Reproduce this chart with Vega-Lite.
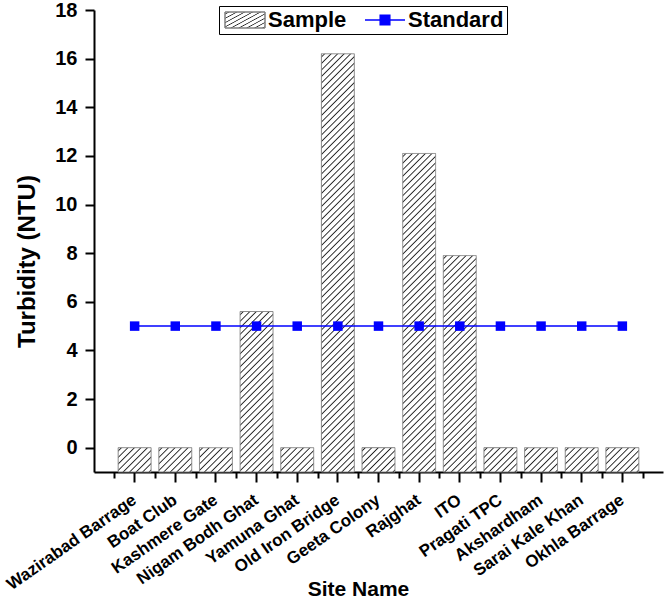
{
"$schema":"https://vega.github.io/schema/vega-lite/v6.json",
"width":569,"height":462,
"autosize":"none",
"padding":{"left":94,"top":10,"right":3,"bottom":126},
"background":"white",
"config":{"view":{"stroke":null},"font":"Liberation Sans"},
"data":{"values":[
{"Site":"Wazirabad Barrage","Sample":0,"Standard":5},
{"Site":"Boat Club","Sample":0,"Standard":5},
{"Site":"Kashmere Gate","Sample":0,"Standard":5},
{"Site":"Nigam Bodh Ghat","Sample":5.6,"Standard":5},
{"Site":"Yamuna Ghat","Sample":0,"Standard":5},
{"Site":"Old Iron Bridge","Sample":16.2,"Standard":5},
{"Site":"Geeta Colony","Sample":0,"Standard":5},
{"Site":"Rajghat","Sample":12.1,"Standard":5},
{"Site":"ITO","Sample":7.9,"Standard":5},
{"Site":"Pragati TPC","Sample":0,"Standard":5},
{"Site":"Akshardham","Sample":0,"Standard":5},
{"Site":"Sarai Kale Khan","Sample":0,"Standard":5},
{"Site":"Okhla Barrage","Sample":0,"Standard":5}
]},
"resolve":{"axis":{"x":"independent"}},
"layer":[
{"transform":[{"filter":"datum.Sample == 0"}],
"mark":{"type":"bar","width":{"band":0.81},"stroke":"#808080","strokeWidth":1,
"fill":{"gradient":"linear","x1":0,"y1":0,"x2":12.78,"y2":9.44,"stops":[
{"offset":0.003,"color":"#fff"},{"offset":0.005,"color":"#222"},{"offset":0.007,"color":"#fff"},
{"offset":0.013,"color":"#fff"},{"offset":0.015,"color":"#222"},{"offset":0.017,"color":"#fff"},
{"offset":0.023,"color":"#fff"},{"offset":0.025,"color":"#222"},{"offset":0.027,"color":"#fff"},
{"offset":0.033,"color":"#fff"},{"offset":0.035,"color":"#222"},{"offset":0.037,"color":"#fff"},
{"offset":0.043,"color":"#fff"},{"offset":0.045,"color":"#222"},{"offset":0.047,"color":"#fff"},
{"offset":0.053,"color":"#fff"},{"offset":0.055,"color":"#222"},{"offset":0.057,"color":"#fff"},
{"offset":0.063,"color":"#fff"},{"offset":0.065,"color":"#222"},{"offset":0.067,"color":"#fff"},
{"offset":0.073,"color":"#fff"},{"offset":0.075,"color":"#222"},{"offset":0.077,"color":"#fff"},
{"offset":0.083,"color":"#fff"},{"offset":0.085,"color":"#222"},{"offset":0.087,"color":"#fff"}
]}},
"encoding":{
"x":{"field":"Site","type":"nominal","sort":null,
"scale":{"domain":["Wazirabad Barrage","Boat Club","Kashmere Gate","Nigam Bodh Ghat","Yamuna Ghat","Old Iron Bridge","Geeta Colony","Rajghat","ITO","Pragati TPC","Akshardham","Sarai Kale Khan","Okhla Barrage"],"paddingInner":0,"paddingOuter":0.5},
"axis":{"orient":"bottom","title":"Site Name","labelAngle":-35,"labelAlign":"right","labelBaseline":"middle","labelFont":"Liberation Sans","labelFontSize":17,"labelFontWeight":"bold","labelColor":"black","labelPadding":16,"tickSize":10,"tickWidth":2,"tickColor":"black","domainColor":"black","domainWidth":2,"grid":false,"titleFont":"Liberation Sans","titleFontSize":21,"titleFontWeight":"bold","titleColor":"black","titleX":264,"titleY":123,"titleBaseline":"alphabetic","titleAlign":"center"}},
"y":{"field":"Sample","type":"quantitative","scale":{"domain":[-1,18],"nice":false,"zero":false},
"axis":{"title":"Turbidity (NTU)","values":[0,1,2,3,4,5,6,7,8,9,10,11,12,13,14,15,16,17,18],"labelExpr":"datum.value % 2 === 0 ? datum.label : ''","tickSize":{"condition":{"test":"datum.value % 2 === 0","value":9},"value":5},"tickWidth":2,"tickColor":"black","domainColor":"black","domainWidth":2,"grid":false,"labelFont":"Liberation Sans","labelFontSize":20,"labelFontWeight":"bold","labelColor":"black","labelPadding":8,"titleFont":"Liberation Sans","titleFontSize":24,"titleFontWeight":"bold","titleColor":"black","titlePadding":15,"titleY":251}},
"y2":{"datum":-1},
"strokeDash":{"datum":"Sample","type":"nominal","scale":{"domain":["Sample"],"range":[[1,0]]},
"legend":{"orient":"none","legendX":125,"legendY":-4,"title":"Standard","titleOrient":"right","titlePadding":62,"titleFont":"Liberation Sans","titleFontSize":22,"titleFontWeight":"bold","titleColor":"black","titleBaseline":"middle","strokeColor":"black","padding":3,"labelFont":"Liberation Sans","labelFontSize":22,"labelFontWeight":"bold","labelColor":"black","labelLimit":400,"symbolType":"M-2.5,-1H2.5V1H-2.5Z","symbolSize":256,"symbolOffset":12,"labelOffset":12}}
}},
{"transform":[{"filter":"datum.Site == 'Nigam Bodh Ghat'"}],
"mark":{"type":"bar","width":{"band":0.81},"stroke":"#808080","strokeWidth":1,
"fill":{"gradient":"linear","x1":0,"y1":0,"x2":0.7967,"y2":3.8867,"stops":[
{"offset":0.003,"color":"#fff"},{"offset":0.005,"color":"#222"},{"offset":0.007,"color":"#fff"},
{"offset":0.013,"color":"#fff"},{"offset":0.015,"color":"#222"},{"offset":0.017,"color":"#fff"},
{"offset":0.023,"color":"#fff"},{"offset":0.025,"color":"#222"},{"offset":0.027,"color":"#fff"},
{"offset":0.033,"color":"#fff"},{"offset":0.035,"color":"#222"},{"offset":0.037,"color":"#fff"},
{"offset":0.043,"color":"#fff"},{"offset":0.045,"color":"#222"},{"offset":0.047,"color":"#fff"},
{"offset":0.053,"color":"#fff"},{"offset":0.055,"color":"#222"},{"offset":0.057,"color":"#fff"},
{"offset":0.063,"color":"#fff"},{"offset":0.065,"color":"#222"},{"offset":0.067,"color":"#fff"},
{"offset":0.073,"color":"#fff"},{"offset":0.075,"color":"#222"},{"offset":0.077,"color":"#fff"},
{"offset":0.083,"color":"#fff"},{"offset":0.085,"color":"#222"},{"offset":0.087,"color":"#fff"},
{"offset":0.093,"color":"#fff"},{"offset":0.095,"color":"#222"},{"offset":0.097,"color":"#fff"},
{"offset":0.103,"color":"#fff"},{"offset":0.105,"color":"#222"},{"offset":0.107,"color":"#fff"},
{"offset":0.113,"color":"#fff"},{"offset":0.115,"color":"#222"},{"offset":0.117,"color":"#fff"},
{"offset":0.123,"color":"#fff"},{"offset":0.125,"color":"#222"},{"offset":0.127,"color":"#fff"},
{"offset":0.133,"color":"#fff"},{"offset":0.135,"color":"#222"},{"offset":0.137,"color":"#fff"},
{"offset":0.143,"color":"#fff"},{"offset":0.145,"color":"#222"},{"offset":0.147,"color":"#fff"},
{"offset":0.153,"color":"#fff"},{"offset":0.155,"color":"#222"},{"offset":0.157,"color":"#fff"},
{"offset":0.163,"color":"#fff"},{"offset":0.165,"color":"#222"},{"offset":0.167,"color":"#fff"},
{"offset":0.173,"color":"#fff"},{"offset":0.175,"color":"#222"},{"offset":0.177,"color":"#fff"},
{"offset":0.183,"color":"#fff"},{"offset":0.185,"color":"#222"},{"offset":0.187,"color":"#fff"},
{"offset":0.193,"color":"#fff"},{"offset":0.195,"color":"#222"},{"offset":0.197,"color":"#fff"},
{"offset":0.203,"color":"#fff"},{"offset":0.205,"color":"#222"},{"offset":0.207,"color":"#fff"},
{"offset":0.213,"color":"#fff"},{"offset":0.215,"color":"#222"},{"offset":0.217,"color":"#fff"},
{"offset":0.223,"color":"#fff"},{"offset":0.225,"color":"#222"},{"offset":0.227,"color":"#fff"},
{"offset":0.233,"color":"#fff"},{"offset":0.235,"color":"#222"},{"offset":0.237,"color":"#fff"},
{"offset":0.243,"color":"#fff"},{"offset":0.245,"color":"#222"},{"offset":0.247,"color":"#fff"},
{"offset":0.253,"color":"#fff"},{"offset":0.255,"color":"#222"},{"offset":0.257,"color":"#fff"},
{"offset":0.263,"color":"#fff"},{"offset":0.265,"color":"#222"},{"offset":0.267,"color":"#fff"},
{"offset":0.273,"color":"#fff"},{"offset":0.275,"color":"#222"},{"offset":0.277,"color":"#fff"},
{"offset":0.283,"color":"#fff"},{"offset":0.285,"color":"#222"},{"offset":0.287,"color":"#fff"},
{"offset":0.293,"color":"#fff"},{"offset":0.295,"color":"#222"},{"offset":0.297,"color":"#fff"}
]}},
"encoding":{"x":{"field":"Site","type":"nominal","sort":null,"axis":null},"y":{"field":"Sample","type":"quantitative"},"y2":{"datum":-1},"strokeDash":{"datum":"Sample","type":"nominal"}}},
{"transform":[{"filter":"datum.Site == 'ITO'"}],
"mark":{"type":"bar","width":{"band":0.81},"stroke":"#808080","strokeWidth":1,
"fill":{"gradient":"linear","x1":0,"y1":0,"x2":0.4463,"y2":2.9359,"stops":[
{"offset":0.003,"color":"#fff"},{"offset":0.005,"color":"#222"},{"offset":0.007,"color":"#fff"},
{"offset":0.013,"color":"#fff"},{"offset":0.015,"color":"#222"},{"offset":0.017,"color":"#fff"},
{"offset":0.023,"color":"#fff"},{"offset":0.025,"color":"#222"},{"offset":0.027,"color":"#fff"},
{"offset":0.033,"color":"#fff"},{"offset":0.035,"color":"#222"},{"offset":0.037,"color":"#fff"},
{"offset":0.043,"color":"#fff"},{"offset":0.045,"color":"#222"},{"offset":0.047,"color":"#fff"},
{"offset":0.053,"color":"#fff"},{"offset":0.055,"color":"#222"},{"offset":0.057,"color":"#fff"},
{"offset":0.063,"color":"#fff"},{"offset":0.065,"color":"#222"},{"offset":0.067,"color":"#fff"},
{"offset":0.073,"color":"#fff"},{"offset":0.075,"color":"#222"},{"offset":0.077,"color":"#fff"},
{"offset":0.083,"color":"#fff"},{"offset":0.085,"color":"#222"},{"offset":0.087,"color":"#fff"},
{"offset":0.093,"color":"#fff"},{"offset":0.095,"color":"#222"},{"offset":0.097,"color":"#fff"},
{"offset":0.103,"color":"#fff"},{"offset":0.105,"color":"#222"},{"offset":0.107,"color":"#fff"},
{"offset":0.113,"color":"#fff"},{"offset":0.115,"color":"#222"},{"offset":0.117,"color":"#fff"},
{"offset":0.123,"color":"#fff"},{"offset":0.125,"color":"#222"},{"offset":0.127,"color":"#fff"},
{"offset":0.133,"color":"#fff"},{"offset":0.135,"color":"#222"},{"offset":0.137,"color":"#fff"},
{"offset":0.143,"color":"#fff"},{"offset":0.145,"color":"#222"},{"offset":0.147,"color":"#fff"},
{"offset":0.153,"color":"#fff"},{"offset":0.155,"color":"#222"},{"offset":0.157,"color":"#fff"},
{"offset":0.163,"color":"#fff"},{"offset":0.165,"color":"#222"},{"offset":0.167,"color":"#fff"},
{"offset":0.173,"color":"#fff"},{"offset":0.175,"color":"#222"},{"offset":0.177,"color":"#fff"},
{"offset":0.183,"color":"#fff"},{"offset":0.185,"color":"#222"},{"offset":0.187,"color":"#fff"},
{"offset":0.193,"color":"#fff"},{"offset":0.195,"color":"#222"},{"offset":0.197,"color":"#fff"},
{"offset":0.203,"color":"#fff"},{"offset":0.205,"color":"#222"},{"offset":0.207,"color":"#fff"},
{"offset":0.213,"color":"#fff"},{"offset":0.215,"color":"#222"},{"offset":0.217,"color":"#fff"},
{"offset":0.223,"color":"#fff"},{"offset":0.225,"color":"#222"},{"offset":0.227,"color":"#fff"},
{"offset":0.233,"color":"#fff"},{"offset":0.235,"color":"#222"},{"offset":0.237,"color":"#fff"},
{"offset":0.243,"color":"#fff"},{"offset":0.245,"color":"#222"},{"offset":0.247,"color":"#fff"},
{"offset":0.253,"color":"#fff"},{"offset":0.255,"color":"#222"},{"offset":0.257,"color":"#fff"},
{"offset":0.263,"color":"#fff"},{"offset":0.265,"color":"#222"},{"offset":0.267,"color":"#fff"},
{"offset":0.273,"color":"#fff"},{"offset":0.275,"color":"#222"},{"offset":0.277,"color":"#fff"},
{"offset":0.283,"color":"#fff"},{"offset":0.285,"color":"#222"},{"offset":0.287,"color":"#fff"},
{"offset":0.293,"color":"#fff"},{"offset":0.295,"color":"#222"},{"offset":0.297,"color":"#fff"},
{"offset":0.303,"color":"#fff"},{"offset":0.305,"color":"#222"},{"offset":0.307,"color":"#fff"},
{"offset":0.313,"color":"#fff"},{"offset":0.315,"color":"#222"},{"offset":0.317,"color":"#fff"},
{"offset":0.323,"color":"#fff"},{"offset":0.325,"color":"#222"},{"offset":0.327,"color":"#fff"},
{"offset":0.333,"color":"#fff"},{"offset":0.335,"color":"#222"},{"offset":0.337,"color":"#fff"},
{"offset":0.343,"color":"#fff"},{"offset":0.345,"color":"#222"},{"offset":0.347,"color":"#fff"},
{"offset":0.353,"color":"#fff"},{"offset":0.355,"color":"#222"},{"offset":0.357,"color":"#fff"},
{"offset":0.363,"color":"#fff"},{"offset":0.365,"color":"#222"},{"offset":0.367,"color":"#fff"},
{"offset":0.373,"color":"#fff"},{"offset":0.375,"color":"#222"},{"offset":0.377,"color":"#fff"}
]}},
"encoding":{"x":{"field":"Site","type":"nominal","sort":null,"axis":null},"y":{"field":"Sample","type":"quantitative"},"y2":{"datum":-1},"strokeDash":{"datum":"Sample","type":"nominal"}}},
{"transform":[{"filter":"datum.Site == 'Rajghat'"}],
"mark":{"type":"bar","width":{"band":0.81},"stroke":"#808080","strokeWidth":1,
"fill":{"gradient":"linear","x1":0,"y1":0,"x2":0.2085,"y2":2.0187,"stops":[
{"offset":0.003,"color":"#fff"},{"offset":0.005,"color":"#222"},{"offset":0.007,"color":"#fff"},
{"offset":0.013,"color":"#fff"},{"offset":0.015,"color":"#222"},{"offset":0.017,"color":"#fff"},
{"offset":0.023,"color":"#fff"},{"offset":0.025,"color":"#222"},{"offset":0.027,"color":"#fff"},
{"offset":0.033,"color":"#fff"},{"offset":0.035,"color":"#222"},{"offset":0.037,"color":"#fff"},
{"offset":0.043,"color":"#fff"},{"offset":0.045,"color":"#222"},{"offset":0.047,"color":"#fff"},
{"offset":0.053,"color":"#fff"},{"offset":0.055,"color":"#222"},{"offset":0.057,"color":"#fff"},
{"offset":0.063,"color":"#fff"},{"offset":0.065,"color":"#222"},{"offset":0.067,"color":"#fff"},
{"offset":0.073,"color":"#fff"},{"offset":0.075,"color":"#222"},{"offset":0.077,"color":"#fff"},
{"offset":0.083,"color":"#fff"},{"offset":0.085,"color":"#222"},{"offset":0.087,"color":"#fff"},
{"offset":0.093,"color":"#fff"},{"offset":0.095,"color":"#222"},{"offset":0.097,"color":"#fff"},
{"offset":0.103,"color":"#fff"},{"offset":0.105,"color":"#222"},{"offset":0.107,"color":"#fff"},
{"offset":0.113,"color":"#fff"},{"offset":0.115,"color":"#222"},{"offset":0.117,"color":"#fff"},
{"offset":0.123,"color":"#fff"},{"offset":0.125,"color":"#222"},{"offset":0.127,"color":"#fff"},
{"offset":0.133,"color":"#fff"},{"offset":0.135,"color":"#222"},{"offset":0.137,"color":"#fff"},
{"offset":0.143,"color":"#fff"},{"offset":0.145,"color":"#222"},{"offset":0.147,"color":"#fff"},
{"offset":0.153,"color":"#fff"},{"offset":0.155,"color":"#222"},{"offset":0.157,"color":"#fff"},
{"offset":0.163,"color":"#fff"},{"offset":0.165,"color":"#222"},{"offset":0.167,"color":"#fff"},
{"offset":0.173,"color":"#fff"},{"offset":0.175,"color":"#222"},{"offset":0.177,"color":"#fff"},
{"offset":0.183,"color":"#fff"},{"offset":0.185,"color":"#222"},{"offset":0.187,"color":"#fff"},
{"offset":0.193,"color":"#fff"},{"offset":0.195,"color":"#222"},{"offset":0.197,"color":"#fff"},
{"offset":0.203,"color":"#fff"},{"offset":0.205,"color":"#222"},{"offset":0.207,"color":"#fff"},
{"offset":0.213,"color":"#fff"},{"offset":0.215,"color":"#222"},{"offset":0.217,"color":"#fff"},
{"offset":0.223,"color":"#fff"},{"offset":0.225,"color":"#222"},{"offset":0.227,"color":"#fff"},
{"offset":0.233,"color":"#fff"},{"offset":0.235,"color":"#222"},{"offset":0.237,"color":"#fff"},
{"offset":0.243,"color":"#fff"},{"offset":0.245,"color":"#222"},{"offset":0.247,"color":"#fff"},
{"offset":0.253,"color":"#fff"},{"offset":0.255,"color":"#222"},{"offset":0.257,"color":"#fff"},
{"offset":0.263,"color":"#fff"},{"offset":0.265,"color":"#222"},{"offset":0.267,"color":"#fff"},
{"offset":0.273,"color":"#fff"},{"offset":0.275,"color":"#222"},{"offset":0.277,"color":"#fff"},
{"offset":0.283,"color":"#fff"},{"offset":0.285,"color":"#222"},{"offset":0.287,"color":"#fff"},
{"offset":0.293,"color":"#fff"},{"offset":0.295,"color":"#222"},{"offset":0.297,"color":"#fff"},
{"offset":0.303,"color":"#fff"},{"offset":0.305,"color":"#222"},{"offset":0.307,"color":"#fff"},
{"offset":0.313,"color":"#fff"},{"offset":0.315,"color":"#222"},{"offset":0.317,"color":"#fff"},
{"offset":0.323,"color":"#fff"},{"offset":0.325,"color":"#222"},{"offset":0.327,"color":"#fff"},
{"offset":0.333,"color":"#fff"},{"offset":0.335,"color":"#222"},{"offset":0.337,"color":"#fff"},
{"offset":0.343,"color":"#fff"},{"offset":0.345,"color":"#222"},{"offset":0.347,"color":"#fff"},
{"offset":0.353,"color":"#fff"},{"offset":0.355,"color":"#222"},{"offset":0.357,"color":"#fff"},
{"offset":0.363,"color":"#fff"},{"offset":0.365,"color":"#222"},{"offset":0.367,"color":"#fff"},
{"offset":0.373,"color":"#fff"},{"offset":0.375,"color":"#222"},{"offset":0.377,"color":"#fff"},
{"offset":0.383,"color":"#fff"},{"offset":0.385,"color":"#222"},{"offset":0.387,"color":"#fff"},
{"offset":0.393,"color":"#fff"},{"offset":0.395,"color":"#222"},{"offset":0.397,"color":"#fff"},
{"offset":0.403,"color":"#fff"},{"offset":0.405,"color":"#222"},{"offset":0.407,"color":"#fff"},
{"offset":0.413,"color":"#fff"},{"offset":0.415,"color":"#222"},{"offset":0.417,"color":"#fff"},
{"offset":0.423,"color":"#fff"},{"offset":0.425,"color":"#222"},{"offset":0.427,"color":"#fff"},
{"offset":0.433,"color":"#fff"},{"offset":0.435,"color":"#222"},{"offset":0.437,"color":"#fff"},
{"offset":0.443,"color":"#fff"},{"offset":0.445,"color":"#222"},{"offset":0.447,"color":"#fff"},
{"offset":0.453,"color":"#fff"},{"offset":0.455,"color":"#222"},{"offset":0.457,"color":"#fff"},
{"offset":0.463,"color":"#fff"},{"offset":0.465,"color":"#222"},{"offset":0.467,"color":"#fff"},
{"offset":0.473,"color":"#fff"},{"offset":0.475,"color":"#222"},{"offset":0.477,"color":"#fff"},
{"offset":0.483,"color":"#fff"},{"offset":0.485,"color":"#222"},{"offset":0.487,"color":"#fff"},
{"offset":0.493,"color":"#fff"},{"offset":0.495,"color":"#222"},{"offset":0.497,"color":"#fff"},
{"offset":0.503,"color":"#fff"},{"offset":0.505,"color":"#222"},{"offset":0.507,"color":"#fff"},
{"offset":0.513,"color":"#fff"},{"offset":0.515,"color":"#222"},{"offset":0.517,"color":"#fff"},
{"offset":0.523,"color":"#fff"},{"offset":0.525,"color":"#222"},{"offset":0.527,"color":"#fff"},
{"offset":0.533,"color":"#fff"},{"offset":0.535,"color":"#222"},{"offset":0.537,"color":"#fff"}
]}},
"encoding":{"x":{"field":"Site","type":"nominal","sort":null,"axis":null},"y":{"field":"Sample","type":"quantitative"},"y2":{"datum":-1},"strokeDash":{"datum":"Sample","type":"nominal"}}},
{"transform":[{"filter":"datum.Site == 'Old Iron Bridge'"}],
"mark":{"type":"bar","width":{"band":0.81},"stroke":"#808080","strokeWidth":1,
"fill":{"gradient":"linear","x1":0,"y1":0,"x2":0.1215,"y2":1.5444,"stops":[
{"offset":0.003,"color":"#fff"},{"offset":0.005,"color":"#222"},{"offset":0.007,"color":"#fff"},
{"offset":0.013,"color":"#fff"},{"offset":0.015,"color":"#222"},{"offset":0.017,"color":"#fff"},
{"offset":0.023,"color":"#fff"},{"offset":0.025,"color":"#222"},{"offset":0.027,"color":"#fff"},
{"offset":0.033,"color":"#fff"},{"offset":0.035,"color":"#222"},{"offset":0.037,"color":"#fff"},
{"offset":0.043,"color":"#fff"},{"offset":0.045,"color":"#222"},{"offset":0.047,"color":"#fff"},
{"offset":0.053,"color":"#fff"},{"offset":0.055,"color":"#222"},{"offset":0.057,"color":"#fff"},
{"offset":0.063,"color":"#fff"},{"offset":0.065,"color":"#222"},{"offset":0.067,"color":"#fff"},
{"offset":0.073,"color":"#fff"},{"offset":0.075,"color":"#222"},{"offset":0.077,"color":"#fff"},
{"offset":0.083,"color":"#fff"},{"offset":0.085,"color":"#222"},{"offset":0.087,"color":"#fff"},
{"offset":0.093,"color":"#fff"},{"offset":0.095,"color":"#222"},{"offset":0.097,"color":"#fff"},
{"offset":0.103,"color":"#fff"},{"offset":0.105,"color":"#222"},{"offset":0.107,"color":"#fff"},
{"offset":0.113,"color":"#fff"},{"offset":0.115,"color":"#222"},{"offset":0.117,"color":"#fff"},
{"offset":0.123,"color":"#fff"},{"offset":0.125,"color":"#222"},{"offset":0.127,"color":"#fff"},
{"offset":0.133,"color":"#fff"},{"offset":0.135,"color":"#222"},{"offset":0.137,"color":"#fff"},
{"offset":0.143,"color":"#fff"},{"offset":0.145,"color":"#222"},{"offset":0.147,"color":"#fff"},
{"offset":0.153,"color":"#fff"},{"offset":0.155,"color":"#222"},{"offset":0.157,"color":"#fff"},
{"offset":0.163,"color":"#fff"},{"offset":0.165,"color":"#222"},{"offset":0.167,"color":"#fff"},
{"offset":0.173,"color":"#fff"},{"offset":0.175,"color":"#222"},{"offset":0.177,"color":"#fff"},
{"offset":0.183,"color":"#fff"},{"offset":0.185,"color":"#222"},{"offset":0.187,"color":"#fff"},
{"offset":0.193,"color":"#fff"},{"offset":0.195,"color":"#222"},{"offset":0.197,"color":"#fff"},
{"offset":0.203,"color":"#fff"},{"offset":0.205,"color":"#222"},{"offset":0.207,"color":"#fff"},
{"offset":0.213,"color":"#fff"},{"offset":0.215,"color":"#222"},{"offset":0.217,"color":"#fff"},
{"offset":0.223,"color":"#fff"},{"offset":0.225,"color":"#222"},{"offset":0.227,"color":"#fff"},
{"offset":0.233,"color":"#fff"},{"offset":0.235,"color":"#222"},{"offset":0.237,"color":"#fff"},
{"offset":0.243,"color":"#fff"},{"offset":0.245,"color":"#222"},{"offset":0.247,"color":"#fff"},
{"offset":0.253,"color":"#fff"},{"offset":0.255,"color":"#222"},{"offset":0.257,"color":"#fff"},
{"offset":0.263,"color":"#fff"},{"offset":0.265,"color":"#222"},{"offset":0.267,"color":"#fff"},
{"offset":0.273,"color":"#fff"},{"offset":0.275,"color":"#222"},{"offset":0.277,"color":"#fff"},
{"offset":0.283,"color":"#fff"},{"offset":0.285,"color":"#222"},{"offset":0.287,"color":"#fff"},
{"offset":0.293,"color":"#fff"},{"offset":0.295,"color":"#222"},{"offset":0.297,"color":"#fff"},
{"offset":0.303,"color":"#fff"},{"offset":0.305,"color":"#222"},{"offset":0.307,"color":"#fff"},
{"offset":0.313,"color":"#fff"},{"offset":0.315,"color":"#222"},{"offset":0.317,"color":"#fff"},
{"offset":0.323,"color":"#fff"},{"offset":0.325,"color":"#222"},{"offset":0.327,"color":"#fff"},
{"offset":0.333,"color":"#fff"},{"offset":0.335,"color":"#222"},{"offset":0.337,"color":"#fff"},
{"offset":0.343,"color":"#fff"},{"offset":0.345,"color":"#222"},{"offset":0.347,"color":"#fff"},
{"offset":0.353,"color":"#fff"},{"offset":0.355,"color":"#222"},{"offset":0.357,"color":"#fff"},
{"offset":0.363,"color":"#fff"},{"offset":0.365,"color":"#222"},{"offset":0.367,"color":"#fff"},
{"offset":0.373,"color":"#fff"},{"offset":0.375,"color":"#222"},{"offset":0.377,"color":"#fff"},
{"offset":0.383,"color":"#fff"},{"offset":0.385,"color":"#222"},{"offset":0.387,"color":"#fff"},
{"offset":0.393,"color":"#fff"},{"offset":0.395,"color":"#222"},{"offset":0.397,"color":"#fff"},
{"offset":0.403,"color":"#fff"},{"offset":0.405,"color":"#222"},{"offset":0.407,"color":"#fff"},
{"offset":0.413,"color":"#fff"},{"offset":0.415,"color":"#222"},{"offset":0.417,"color":"#fff"},
{"offset":0.423,"color":"#fff"},{"offset":0.425,"color":"#222"},{"offset":0.427,"color":"#fff"},
{"offset":0.433,"color":"#fff"},{"offset":0.435,"color":"#222"},{"offset":0.437,"color":"#fff"},
{"offset":0.443,"color":"#fff"},{"offset":0.445,"color":"#222"},{"offset":0.447,"color":"#fff"},
{"offset":0.453,"color":"#fff"},{"offset":0.455,"color":"#222"},{"offset":0.457,"color":"#fff"},
{"offset":0.463,"color":"#fff"},{"offset":0.465,"color":"#222"},{"offset":0.467,"color":"#fff"},
{"offset":0.473,"color":"#fff"},{"offset":0.475,"color":"#222"},{"offset":0.477,"color":"#fff"},
{"offset":0.483,"color":"#fff"},{"offset":0.485,"color":"#222"},{"offset":0.487,"color":"#fff"},
{"offset":0.493,"color":"#fff"},{"offset":0.495,"color":"#222"},{"offset":0.497,"color":"#fff"},
{"offset":0.503,"color":"#fff"},{"offset":0.505,"color":"#222"},{"offset":0.507,"color":"#fff"},
{"offset":0.513,"color":"#fff"},{"offset":0.515,"color":"#222"},{"offset":0.517,"color":"#fff"},
{"offset":0.523,"color":"#fff"},{"offset":0.525,"color":"#222"},{"offset":0.527,"color":"#fff"},
{"offset":0.533,"color":"#fff"},{"offset":0.535,"color":"#222"},{"offset":0.537,"color":"#fff"},
{"offset":0.543,"color":"#fff"},{"offset":0.545,"color":"#222"},{"offset":0.547,"color":"#fff"},
{"offset":0.553,"color":"#fff"},{"offset":0.555,"color":"#222"},{"offset":0.557,"color":"#fff"},
{"offset":0.563,"color":"#fff"},{"offset":0.565,"color":"#222"},{"offset":0.567,"color":"#fff"},
{"offset":0.573,"color":"#fff"},{"offset":0.575,"color":"#222"},{"offset":0.577,"color":"#fff"},
{"offset":0.583,"color":"#fff"},{"offset":0.585,"color":"#222"},{"offset":0.587,"color":"#fff"},
{"offset":0.593,"color":"#fff"},{"offset":0.595,"color":"#222"},{"offset":0.597,"color":"#fff"},
{"offset":0.603,"color":"#fff"},{"offset":0.605,"color":"#222"},{"offset":0.607,"color":"#fff"},
{"offset":0.613,"color":"#fff"},{"offset":0.615,"color":"#222"},{"offset":0.617,"color":"#fff"},
{"offset":0.623,"color":"#fff"},{"offset":0.625,"color":"#222"},{"offset":0.627,"color":"#fff"},
{"offset":0.633,"color":"#fff"},{"offset":0.635,"color":"#222"},{"offset":0.637,"color":"#fff"},
{"offset":0.643,"color":"#fff"},{"offset":0.645,"color":"#222"},{"offset":0.647,"color":"#fff"},
{"offset":0.653,"color":"#fff"},{"offset":0.655,"color":"#222"},{"offset":0.657,"color":"#fff"},
{"offset":0.663,"color":"#fff"},{"offset":0.665,"color":"#222"},{"offset":0.667,"color":"#fff"},
{"offset":0.673,"color":"#fff"},{"offset":0.675,"color":"#222"},{"offset":0.677,"color":"#fff"},
{"offset":0.683,"color":"#fff"},{"offset":0.685,"color":"#222"},{"offset":0.687,"color":"#fff"}
]}},
"encoding":{"x":{"field":"Site","type":"nominal","sort":null,"axis":null},"y":{"field":"Sample","type":"quantitative"},"y2":{"datum":-1},"strokeDash":{"datum":"Sample","type":"nominal"}}},
{"mark":{"type":"line","color":"#0000ff","strokeWidth":1.5},
"encoding":{"x":{"field":"Site","type":"nominal","sort":null,
"axis":{"orient":"bottom","tickBand":"extent","labels":false,"domain":false,"title":null,"tickSize":6,"tickWidth":2,"tickColor":"black","grid":false}},
"y":{"field":"Standard","type":"quantitative"},
"opacity":{"datum":"Standard","type":"nominal","scale":{"type":"ordinal","domain":["Standard"],"range":[1]},
"legend":{"orient":"none","legendX":268,"legendY":-1,"title":null,"padding":0,"labelFont":"Liberation Sans","labelFontSize":22,"labelFontWeight":"bold","labelColor":"black","labelOpacity":0,"labelExpr":"''","symbolType":"M-2.5,0H2.5M-0.6,-0.6H0.6V0.6H-0.6Z","symbolSize":256,"symbolOffset":12,"labelOffset":12,"symbolFillColor":"#0000ff","symbolStrokeColor":"#0000ff","symbolStrokeWidth":1.5}}}},
{"mark":{"type":"square","size":90,"color":"#0000ff","filled":true,"opacity":1},
"encoding":{"x":{"field":"Site","type":"nominal","sort":null,"axis":null},
"y":{"field":"Standard","type":"quantitative"}}}
]
}
